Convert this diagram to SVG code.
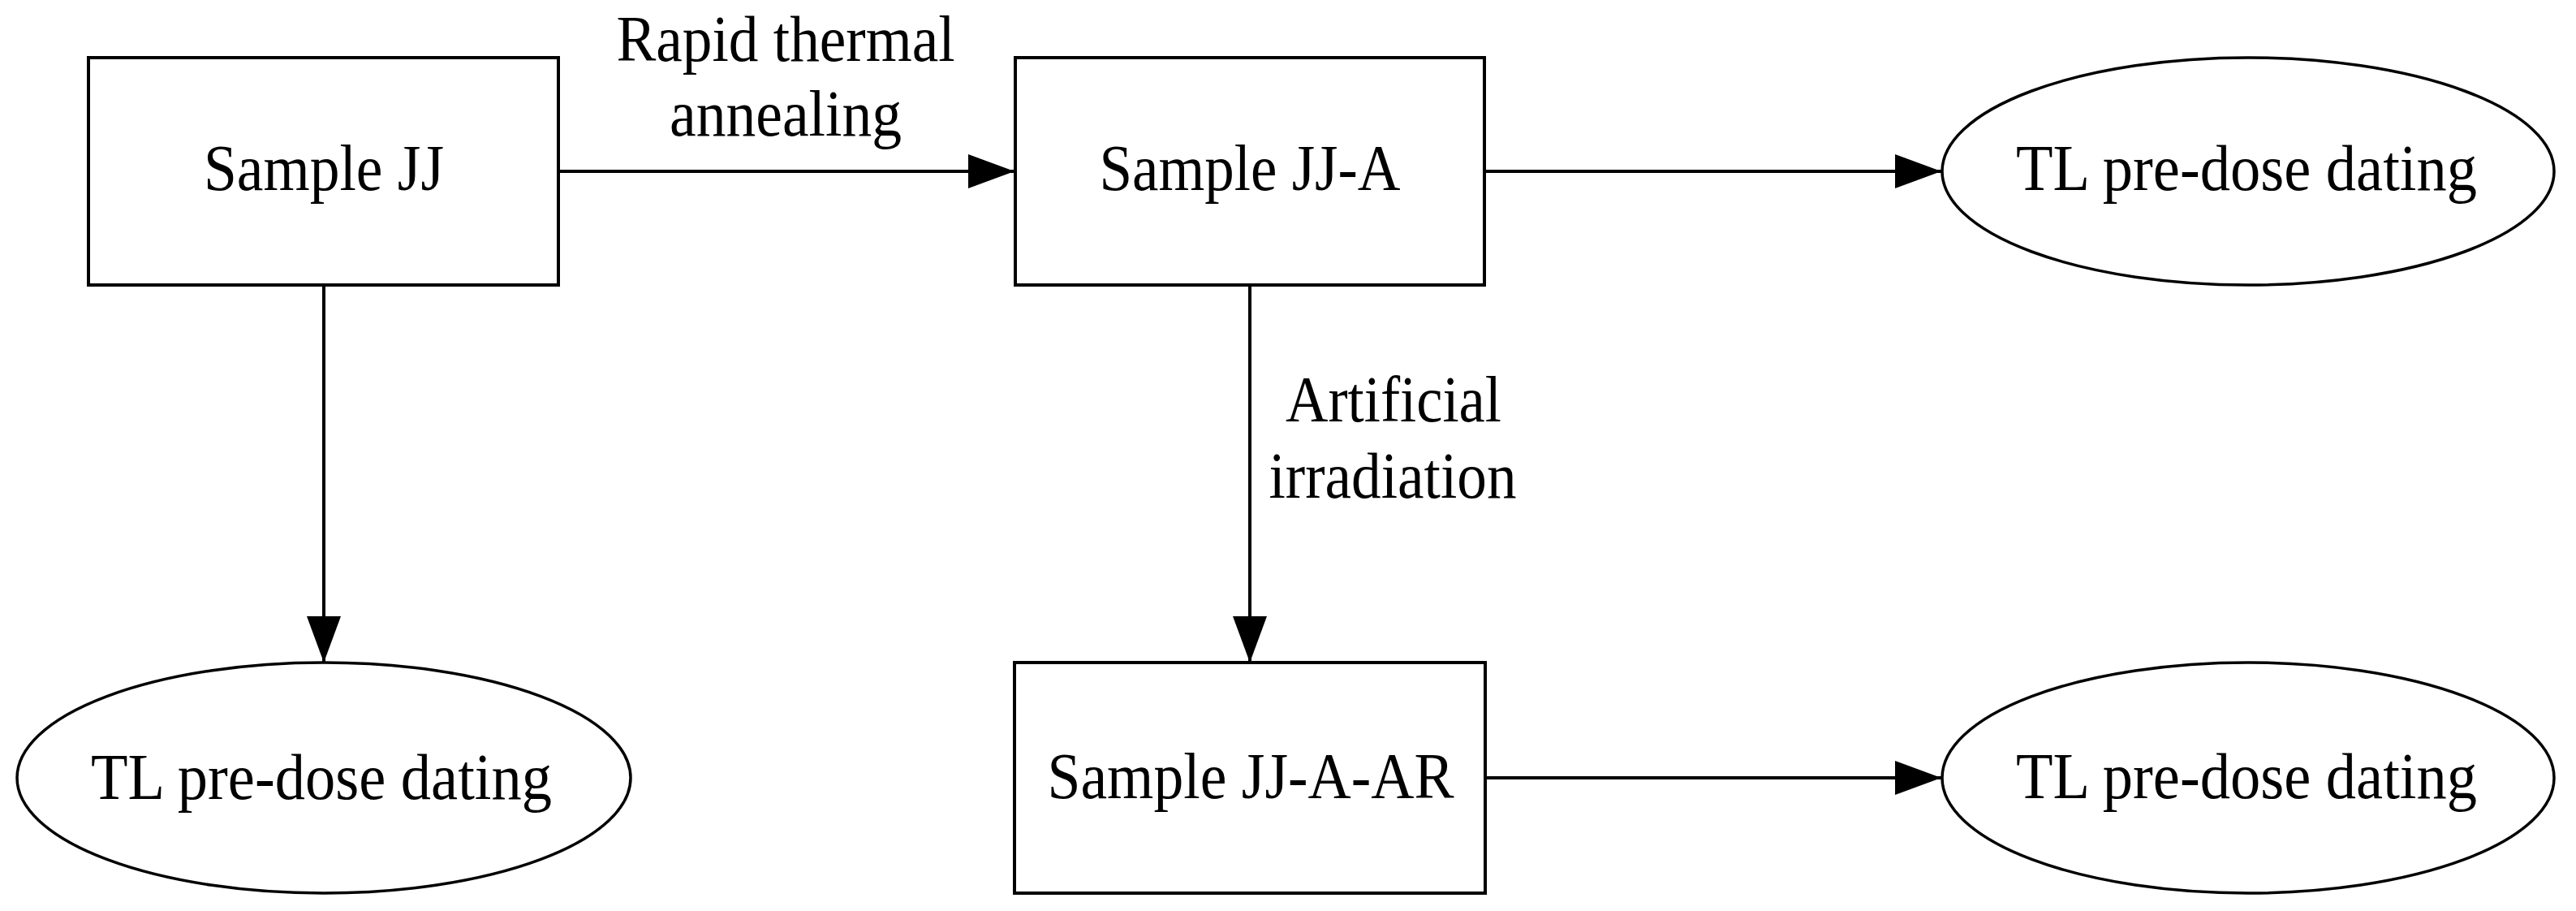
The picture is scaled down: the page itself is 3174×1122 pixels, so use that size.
<svg xmlns="http://www.w3.org/2000/svg" width="3174" height="1122" viewBox="0 0 3174 1122">
<style>
.box{fill:#fff;stroke:#000;stroke-width:4}
.ell{fill:#fff;stroke:#000;stroke-width:3.5}
.lbl{font-family:"Liberation Serif","Times New Roman",serif;font-size:80px;fill:#000;text-anchor:middle}
.edge{fill:none;stroke:#000;stroke-width:4}
</style>
<defs>
<marker id="ah" markerUnits="userSpaceOnUse" markerWidth="58" markerHeight="44" refX="57" refY="21" orient="auto">
<path d="M0,0 L57,21 L0,42 z" fill="#000"/>
</marker>
</defs>
<rect width="3174" height="1122" fill="#fff"/>
<g id="connectors">
<path class="edge" d="M688,211 H1250" marker-end="url(#ah)"/>
<path class="edge" d="M1829,211 H2392" marker-end="url(#ah)"/>
<path class="edge" d="M399,351 V816" marker-end="url(#ah)"/>
<path class="edge" d="M1540,351 V816" marker-end="url(#ah)"/>
<path class="edge" d="M1830,958 H2392" marker-end="url(#ah)"/>
<text class="lbl" x="968" y="75" textLength="417" lengthAdjust="spacingAndGlyphs">Rapid thermal</text>
<text class="lbl" x="968" y="167" textLength="286" lengthAdjust="spacingAndGlyphs">annealing</text>
<text class="lbl" x="1717" y="519" textLength="266" lengthAdjust="spacingAndGlyphs">Artificial</text>
<text class="lbl" x="1716" y="613" textLength="305" lengthAdjust="spacingAndGlyphs">irradiation</text>
</g>
<g id="sample-jj">
<rect class="box" x="109" y="71" width="579" height="280"/>
<text class="lbl" x="399" y="234" textLength="296" lengthAdjust="spacingAndGlyphs">Sample JJ</text>
</g>
<g id="sample-jj-a">
<rect class="box" x="1251" y="71" width="578" height="280"/>
<text class="lbl" x="1540" y="234" textLength="371" lengthAdjust="spacingAndGlyphs">Sample JJ-A</text>
</g>
<g id="tl-top">
<ellipse class="ell" cx="2770" cy="211" rx="377" ry="140"/>
<text class="lbl" x="2768" y="234" textLength="568" lengthAdjust="spacingAndGlyphs">TL pre-dose dating</text>
</g>
<g id="tl-left">
<ellipse class="ell" cx="399" cy="958" rx="378" ry="142"/>
<text class="lbl" x="396" y="984" textLength="568" lengthAdjust="spacingAndGlyphs">TL pre-dose dating</text>
</g>
<g id="sample-jj-a-ar">
<rect class="box" x="1250" y="816" width="580" height="284"/>
<text class="lbl" x="1541" y="983" textLength="501" lengthAdjust="spacingAndGlyphs">Sample JJ-A-AR</text>
</g>
<g id="tl-bottom">
<ellipse class="ell" cx="2770" cy="958" rx="377" ry="142"/>
<text class="lbl" x="2768" y="983" textLength="568" lengthAdjust="spacingAndGlyphs">TL pre-dose dating</text>
</g>
</svg>
